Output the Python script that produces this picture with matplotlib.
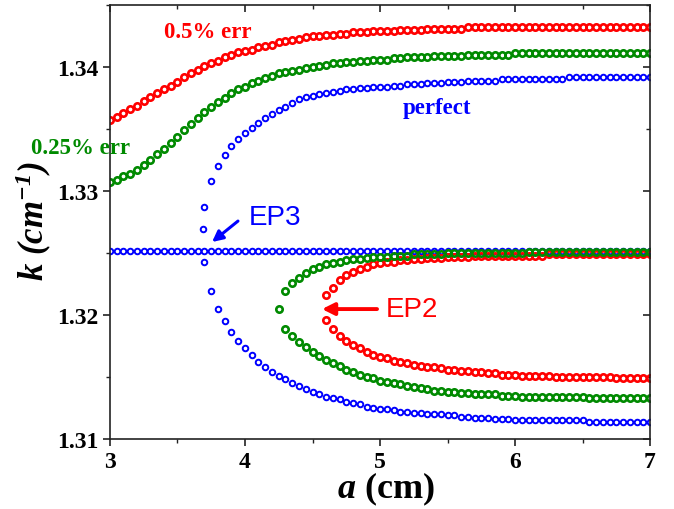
import matplotlib
matplotlib.use("Agg")
import matplotlib.pyplot as plt
from matplotlib.ticker import MultipleLocator

plt.rcParams['mathtext.fontset'] = 'custom'
plt.rcParams['mathtext.rm'] = 'Liberation Serif:bold'
plt.rcParams['mathtext.bf'] = 'Liberation Serif:bold'
plt.rcParams['mathtext.it'] = 'Liberation Serif:italic:bold'
plt.rcParams['mathtext.bfit'] = 'Liberation Serif:italic:bold'

# ---------------- data ----------------
A = [3.00, 3.05, 3.10, 3.15, 3.20, 3.25, 3.30, 3.35, 3.40, 3.45,
     3.50, 3.55, 3.60, 3.65, 3.70, 3.75, 3.80, 3.85, 3.90, 3.95,
     4.00, 4.05, 4.10, 4.15, 4.20, 4.25, 4.30, 4.35, 4.40, 4.45,
     4.50, 4.55, 4.60, 4.65, 4.70, 4.75, 4.80, 4.85, 4.90, 4.95,
     5.00, 5.05, 5.10, 5.15, 5.20, 5.25, 5.30, 5.35, 5.40, 5.45,
     5.50, 5.55, 5.60, 5.65, 5.70, 5.75, 5.80, 5.85, 5.90, 5.95,
     6.00, 6.05, 6.10, 6.15, 6.20, 6.25, 6.30, 6.35, 6.40, 6.45,
     6.50, 6.55, 6.60, 6.65, 6.70, 6.75, 6.80, 6.85, 6.90, 6.95,
     7.00]

# perfect (blue)
blue_flat = [1.3252, 1.3252, 1.3252, 1.3252, 1.3252, 1.3252, 1.3252, 1.3252, 1.3252, 1.3252,
             1.3252, 1.3252, 1.3252, 1.3252, 1.3252, 1.3252, 1.3252, 1.3252, 1.3252, 1.3252,
             1.3252, 1.3252, 1.3252, 1.3252, 1.3252, 1.3252, 1.3252, 1.3252, 1.3252, 1.3252,
             1.3252, 1.3252, 1.3252, 1.3252, 1.3252, 1.3252, 1.3252, 1.3252, 1.3252, 1.3252,
             1.3252, 1.3252, 1.3252, 1.3252, 1.3252, 1.3252, 1.3252, 1.3252, 1.3252, 1.3252,
             1.3252, 1.3252, 1.3252, 1.3252, 1.3252, 1.3252, 1.3252, 1.3252, 1.3252, 1.3252,
             1.3252, 1.3252, 1.3252, 1.3252, 1.3252, 1.3252, 1.3252, 1.3252, 1.3252, 1.3252,
             1.3252, 1.3252, 1.3252, 1.3252, 1.3252, 1.3252, 1.3252, 1.3252, 1.3252, 1.3252,
             1.3252]
ep3_a = [3.69]
ep3_k = [1.3269]
blue_up = [1.3287, 1.3308, 1.3320, 1.3329, 1.3336, 1.3342,
           1.3347, 1.3351, 1.3355, 1.3359, 1.3362, 1.3365, 1.3368, 1.3371, 1.3374, 1.3376,
           1.3377, 1.3378, 1.3379, 1.3380, 1.3381, 1.3382, 1.3382, 1.3383, 1.3383, 1.3384,
           1.3384, 1.3384, 1.3385, 1.3385, 1.3386, 1.3386, 1.3386, 1.3387, 1.3387, 1.3387,
           1.3388, 1.3388, 1.3388, 1.3389, 1.3389, 1.3389, 1.3389, 1.3389, 1.3390, 1.3390,
           1.3390, 1.3390, 1.3390, 1.3390, 1.3390, 1.3390, 1.3390, 1.3390, 1.3392, 1.3392,
           1.3392, 1.3392, 1.3392, 1.3392, 1.3392, 1.3392, 1.3392, 1.3392, 1.3392, 1.3392,
           1.3392]
blue_low = [1.3243, 1.3219, 1.3205, 1.3195, 1.3186, 1.3179,
            1.3173, 1.3168, 1.3162, 1.3158, 1.3154, 1.3151, 1.3148, 1.3145, 1.3143, 1.3140,
            1.3138, 1.3136, 1.3134, 1.3133, 1.3132, 1.3130, 1.3129, 1.3128, 1.3126, 1.3125,
            1.3124, 1.3124, 1.3123, 1.3122, 1.3122, 1.3121, 1.3121, 1.3120, 1.3120, 1.3120,
            1.3119, 1.3119, 1.3118, 1.3118, 1.3117, 1.3117, 1.3117, 1.3116, 1.3116, 1.3116,
            1.3115, 1.3115, 1.3115, 1.3115, 1.3115, 1.3115, 1.3115, 1.3115, 1.3115, 1.3115,
            1.3115, 1.3114, 1.3114, 1.3114, 1.3114, 1.3114, 1.3114, 1.3114, 1.3114, 1.3114,
            1.3114]

# 0.5% err (red)
red_up = [1.3357, 1.3360, 1.3363, 1.3366, 1.3369, 1.3373, 1.3376, 1.3379, 1.3382, 1.3385,
          1.3388, 1.3392, 1.3395, 1.3398, 1.3401, 1.3403, 1.3405, 1.3408, 1.3410, 1.3412,
          1.3413, 1.3414, 1.3416, 1.3417, 1.3418, 1.3420, 1.3421, 1.3422, 1.3423, 1.3424,
          1.3425, 1.3425, 1.3426, 1.3426, 1.3427, 1.3427, 1.3428, 1.3428, 1.3428, 1.3429,
          1.3429, 1.3429, 1.3429, 1.3430, 1.3430, 1.3430, 1.3430, 1.3431, 1.3431, 1.3431,
          1.3431, 1.3431, 1.3431, 1.3432, 1.3432, 1.3432, 1.3432, 1.3432, 1.3432, 1.3432,
          1.3432, 1.3432, 1.3432, 1.3432, 1.3432, 1.3432, 1.3432, 1.3432, 1.3432, 1.3432,
          1.3432, 1.3432, 1.3432, 1.3432, 1.3432, 1.3432, 1.3432, 1.3432, 1.3432, 1.3432,
          1.3432]
red_pair_up = [1.3216, 1.3222, 1.3228, 1.3232, 1.3235, 1.3237, 1.3239, 1.3241,
               1.3242, 1.3243, 1.3243, 1.3244, 1.3244, 1.3245, 1.3245, 1.3246, 1.3246, 1.3246,
               1.3247, 1.3247, 1.3247, 1.3247, 1.3248, 1.3248, 1.3248, 1.3248, 1.3248, 1.3248,
               1.3248, 1.3248, 1.3248, 1.3248, 1.3248, 1.3249, 1.3249, 1.3249, 1.3249, 1.3249,
               1.3249, 1.3249, 1.3249, 1.3249, 1.3249, 1.3249, 1.3249, 1.3249, 1.3249, 1.3249,
               1.3249]
red_pair_low = [1.3196, 1.3189, 1.3183, 1.3179, 1.3176, 1.3173, 1.3170, 1.3168,
                1.3166, 1.3165, 1.3163, 1.3162, 1.3161, 1.3160, 1.3159, 1.3158, 1.3158, 1.3157,
                1.3156, 1.3156, 1.3155, 1.3155, 1.3154, 1.3154, 1.3153, 1.3153, 1.3152, 1.3152,
                1.3152, 1.3151, 1.3151, 1.3151, 1.3151, 1.3151, 1.3150, 1.3150, 1.3150, 1.3150,
                1.3150, 1.3150, 1.3150, 1.3150, 1.3150, 1.3149, 1.3149, 1.3149, 1.3149, 1.3149,
                1.3149]

# 0.25% err (green)
green_up = [1.3307, 1.3309, 1.3312, 1.3314, 1.3317, 1.3321, 1.3325, 1.3330, 1.3334, 1.3339,
            1.3344, 1.3349, 1.3354, 1.3359, 1.3364, 1.3368, 1.3372, 1.3375, 1.3379, 1.3382,
            1.3384, 1.3387, 1.3389, 1.3391, 1.3393, 1.3395, 1.3396, 1.3397, 1.3398, 1.3399,
            1.3400, 1.3401, 1.3402, 1.3403, 1.3403, 1.3404, 1.3404, 1.3405, 1.3405, 1.3406,
            1.3406, 1.3406, 1.3407, 1.3407, 1.3408, 1.3408, 1.3408, 1.3408, 1.3409, 1.3409,
            1.3409, 1.3409, 1.3409, 1.3410, 1.3410, 1.3410, 1.3410, 1.3410, 1.3410, 1.3410,
            1.3411, 1.3411, 1.3411, 1.3411, 1.3411, 1.3411, 1.3411, 1.3411, 1.3411, 1.3411,
            1.3411, 1.3411, 1.3411, 1.3411, 1.3411, 1.3411, 1.3411, 1.3411, 1.3411, 1.3411,
            1.3411]
ep2g_a = [4.25]
ep2g_k = [1.3205]
green_pair_up = [1.3219, 1.3226, 1.3230, 1.3234,
                 1.3237, 1.3239, 1.3241, 1.3242, 1.3243, 1.3244, 1.3245, 1.3245, 1.3246, 1.3247,
                 1.3247, 1.3247, 1.3248, 1.3248, 1.3248, 1.3249, 1.3249, 1.3249, 1.3249, 1.3249,
                 1.3250, 1.3250, 1.3250, 1.3250, 1.3250, 1.3250, 1.3250, 1.3250, 1.3250, 1.3250,
                 1.3250, 1.3250, 1.3251, 1.3251, 1.3251, 1.3251, 1.3251, 1.3251, 1.3251, 1.3251,
                 1.3251, 1.3251, 1.3251, 1.3251, 1.3251, 1.3251, 1.3251, 1.3251, 1.3251, 1.3251,
                 1.3251]
green_pair_low = [1.3189, 1.3183, 1.3178, 1.3174,
                  1.3170, 1.3167, 1.3164, 1.3161, 1.3159, 1.3156, 1.3154, 1.3152, 1.3150, 1.3149,
                  1.3147, 1.3146, 1.3145, 1.3144, 1.3143, 1.3142, 1.3141, 1.3140, 1.3139, 1.3139,
                  1.3138, 1.3138, 1.3137, 1.3137, 1.3136, 1.3136, 1.3136, 1.3136, 1.3135, 1.3135,
                  1.3135, 1.3134, 1.3134, 1.3134, 1.3134, 1.3134, 1.3134, 1.3134, 1.3134, 1.3134,
                  1.3134, 1.3133, 1.3133, 1.3133, 1.3133, 1.3133, 1.3133, 1.3133, 1.3133, 1.3133,
                  1.3133]

x_ticks = [3, 4, 5, 6, 7]
y_ticks = [1.31, 1.32, 1.33, 1.34]

# ---------------- figure ----------------
BLUE = '#0000ff'
RED = '#ff0000'
GREEN = '#008a00'
SERIF = 'Liberation Serif'

fig = plt.figure(figsize=(6.74, 5.10), dpi=100)
ax = fig.add_axes([0.1632, 0.1373, 0.8012, 0.8507])

def circles(xs, ys, color, ms, mew):
    ax.plot(xs, ys, linestyle='none', marker='o', markersize=ms,
            markerfacecolor='none', markeredgecolor=color, markeredgewidth=mew)

bms, bmew = 4.0, 1.4
cms, cmew = 4.6, 1.9
circles(A, blue_flat, BLUE, bms, bmew)
circles(ep3_a + A[14:], ep3_k + blue_up, BLUE, bms, bmew)
circles(A[14:], blue_low, BLUE, bms, bmew)

circles(A, red_up, RED, cms, cmew)
circles(A[32:], red_pair_up, RED, cms, cmew)
circles(A[32:], red_pair_low, RED, cms, cmew)

circles(A, green_up, GREEN, cms, cmew)
circles(ep2g_a + A[26:], ep2g_k + green_pair_up, GREEN, cms, cmew)
circles(A[26:], green_pair_low, GREEN, cms, cmew)

ax.set_xlim(3, 7)
ax.set_ylim(1.31, 1.345)
ax.set_xticks(x_ticks)
ax.set_yticks(y_ticks)
ax.set_xticklabels([str(v) for v in x_ticks])
ax.set_yticklabels(['%.2f' % v for v in y_ticks])
ax.xaxis.set_minor_locator(MultipleLocator(0.5))
ax.yaxis.set_minor_locator(MultipleLocator(0.005))

SPC = '#222222'
for s in ax.spines.values():
    s.set_linewidth(1.2)
    s.set_color(SPC)
ax.tick_params(which='major', direction='out', length=5, width=1.2, color=SPC, pad=3.5)
ax.tick_params(which='minor', direction='out', length=3, width=1.0, color=SPC)
for lab in ax.get_xticklabels() + ax.get_yticklabels():
    lab.set_fontfamily(SERIF)
    lab.set_fontweight('bold')
    lab.set_fontsize(17)

secx = ax.secondary_xaxis('top')
secx.set_xticks(x_ticks)
secx.xaxis.set_minor_locator(MultipleLocator(0.5))
secx.tick_params(which='major', direction='in', length=5, width=1.2, color=SPC, labeltop=False)
secx.tick_params(which='minor', direction='in', length=3, width=1.0, color=SPC)
secx.spines['top'].set_visible(False)
secy = ax.secondary_yaxis('right')
secy.set_yticks(y_ticks)
secy.yaxis.set_minor_locator(MultipleLocator(0.005))
secy.tick_params(which='major', direction='in', length=5, width=1.2, color=SPC, labelright=False)
secy.tick_params(which='minor', direction='in', length=3, width=1.0, color=SPC)
secy.spines['right'].set_visible(False)

# axis labels
fig.text(0.573, 0.040, r'$\mathbfit{a}$ (cm)', family=SERIF, weight='bold',
         fontsize=26, ha='center', va='center')
fig.text(0.050, 0.566, r'$\mathbfit{k\ (cm^{-1})}$', family=SERIF,
         fontsize=25, ha='center', va='center', rotation=90)

# annotations
ax.text(3.726, 1.3429, '0.5% err', color=RED, family=SERIF, weight='bold',
        fontsize=16.5, ha='center', va='center')
ax.text(2.78, 1.33355, '0.25% err', color=GREEN, family=SERIF, weight='bold',
        fontsize=16.5, ha='center', va='center')
ax.text(5.42, 1.33677, 'perfect', color=BLUE, family=SERIF, weight='bold',
        fontsize=16.5, ha='center', va='center')

ax.text(4.222, 1.3279, 'EP3', color=BLUE, family='Liberation Sans',
        fontsize=20, ha='center', va='center')
ax.annotate('', xy=(3.756, 1.32589), xytext=(3.948, 1.32758),
            arrowprops=dict(arrowstyle='-|>', color=BLUE, lw=2.2, mutation_scale=16,
                            shrinkA=0, shrinkB=0))
ax.text(5.237, 1.32048, 'EP2', color=RED, family='Liberation Sans',
        fontsize=20, ha='center', va='center')
ax.annotate('', xy=(4.57, 1.32048), xytext=(4.978, 1.32048),
            arrowprops=dict(arrowstyle='-|>', color=RED, lw=2.8, mutation_scale=18,
                            shrinkA=0, shrinkB=0))

fig.savefig('out.png', dpi=100)
